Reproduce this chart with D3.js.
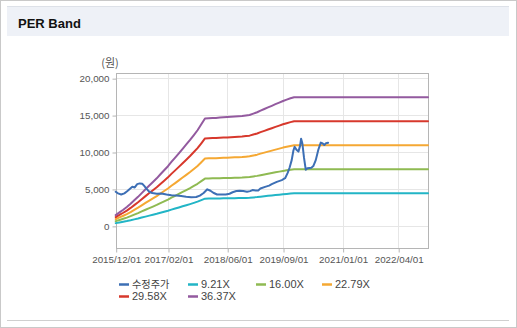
<!DOCTYPE html>
<html>
<head>
<meta charset="utf-8">
<script src="https://cdn.jsdelivr.net/npm/d3@7"></script>
<style>
  html, body { margin: 0; padding: 0; background: #fff; }
  svg { display: block; }
</style>
</head>
<body>
<svg id="chart" width="517" height="328"></svg>
<script>
// ---- data ----
const title = "PER Band";
const yUnitLabel = "(원)";
const priceName = "수정주가";

// Trailing EPS (won) used to build the PER band lines
const epsDates = [
  "2015-12-01","2016-01-01","2016-02-01","2016-03-01","2016-04-01","2016-05-01",
  "2016-06-01","2016-07-01","2016-08-01","2016-09-01","2016-10-01","2016-11-01",
  "2016-12-01","2017-01-01","2017-02-01","2017-03-01","2017-04-01","2017-05-01",
  "2017-06-01","2017-07-01","2017-08-01","2017-09-01","2017-10-01","2017-11-01",
  "2017-12-01","2018-01-01","2018-02-01","2018-03-01","2018-04-01","2018-05-01",
  "2018-06-01","2018-07-01","2018-08-01","2018-09-01","2018-10-01","2018-11-01",
  "2018-12-01","2019-01-01","2019-02-01","2019-03-01","2019-04-01","2019-05-01",
  "2019-06-01","2019-07-01","2019-08-01","2019-09-01","2019-10-01","2019-11-01",
  "2019-12-01","2022-12-01"
];
const epsValues = [
  40, 50, 60, 70, 82, 95,
  108, 122, 136, 150, 163, 177,
  192, 207, 222, 238, 254, 270,
  287, 303, 320, 338, 356, 378,
  400, 401, 402, 402, 403, 404,
  405, 406, 407, 408, 409, 411,
  413, 418, 423, 429, 435, 441,
  447, 453, 459, 465, 470, 475,
  479, 479
];

// PER multiples for the bands
const bandMultiples = [9.21, 16.00, 22.79, 29.58, 36.37];

// Adjusted close price (won)
const priceDates = [
  "2015-12-01","2015-12-20","2016-01-15","2016-02-10","2016-03-01","2016-03-25",
  "2016-04-15","2016-05-05","2016-05-25","2016-06-15","2016-07-05","2016-07-20",
  "2016-08-10","2016-08-30","2016-09-25","2016-11-01","2016-12-10","2017-01-20",
  "2017-03-01","2017-04-10","2017-05-20","2017-06-30","2017-08-10","2017-09-20",
  "2017-10-20","2017-11-20","2017-12-20","2018-01-15","2018-02-07","2018-03-10",
  "2018-04-15","2018-05-20","2018-06-20","2018-07-15","2018-08-15","2018-09-10",
  "2018-10-10","2018-11-10","2018-12-05","2018-12-25","2019-01-20","2019-02-10",
  "2019-02-28","2019-04-07","2019-05-10","2019-06-01","2019-07-12","2019-08-22",
  "2019-09-18","2019-10-10","2019-10-25","2019-11-11","2019-11-25","2019-12-05",
  "2019-12-20","2020-01-05","2020-01-18","2020-01-27","2020-02-06","2020-02-20",
  "2020-03-05","2020-03-18","2020-04-20","2020-05-06","2020-05-26","2020-06-16",
  "2020-07-06","2020-07-22","2020-08-04","2020-08-18","2020-09-04"
];
const priceValues = [
  4620, 4400, 4250, 4400, 4650, 5000,
  5300, 5200, 5650, 5750, 5700, 5450,
  5000, 4650, 4450, 4350, 4380, 4250,
  4150, 4100, 4050, 3950, 3880, 3900,
  4100, 4450, 4950, 4750, 4480, 4250,
  4230, 4250, 4350, 4550, 4720, 4750,
  4720, 4620, 4700, 4850, 4780, 4800,
  5050, 5280, 5450, 5650, 5960, 6200,
  6450, 7200, 7900, 8900, 10200, 10700,
  10300, 10050, 10800, 11800, 11200, 9200,
  7600, 7790, 7880, 8100, 8900, 10300,
  11270, 11150, 10950, 11200, 11250
];

const xTickDates = ["2015-12-01","2017-02-01","2018-06-01","2019-09-01","2021-01-01","2022-04-01"];
const yTickValues = [0, 5000, 10000, 15000, 20000];
const xDomain = ["2015-12-01", "2022-12-01"];
const yDomain = [-3000, 20700];

// ---- styling ----
const priceColor = "#3d6fb5";
const bandColors = ["#22b5c6", "#8fba52", "#f5a833", "#d7382c", "#935a9f"];
const numFont = "'Liberation Sans', Arial, sans-serif";
const krFont = "'Noto Sans CJK KR', 'Liberation Sans', sans-serif";

const parse = d3.utcParse("%Y-%m-%d");
const fmtTick = d3.utcFormat("%Y/%m/%d");

const svg = d3.select("#chart");

// outer frame and header strip
svg.append("rect").attr("x", 0.5).attr("y", 0.5).attr("width", 516).attr("height", 327)
  .attr("fill", "#fff").attr("stroke", "#c9c9c9");
svg.append("rect").attr("x", 7).attr("y", 6).attr("width", 502).attr("height", 30)
  .attr("fill", "#eef1f7");
svg.append("line").attr("x1", 7).attr("x2", 509).attr("y1", 6.5).attr("y2", 6.5)
  .attr("stroke", "#dde1e8");
svg.append("text").attr("x", 18).attr("y", 27.5).text(title)
  .attr("font-family", numFont).attr("font-weight", "bold").attr("font-size", 13).attr("fill", "#111");
svg.append("line").attr("x1", 7).attr("x2", 509).attr("y1", 320.5).attr("y2", 320.5)
  .attr("stroke", "#cfcfcf");

// ---- scales ----
const plot = { left: 115.7, right: 428, top: 73, bottom: 248 };
const x = d3.scaleUtc().domain(xDomain.map(parse)).range([plot.left, plot.right]);
const y = d3.scaleLinear().domain(yDomain).range([plot.bottom, plot.top]);

// grid
const g = svg.append("g");
g.selectAll(".hgrid").data(yTickValues).join("line")
  .attr("x1", plot.left).attr("x2", plot.right)
  .attr("y1", d => Math.round(y(d)) + 0.5).attr("y2", d => Math.round(y(d)) + 0.5)
  .attr("stroke", "#e6e6e6");
g.selectAll(".vgrid").data(xTickDates.map(parse)).join("line")
  .attr("x1", d => Math.round(x(d)) + 0.5).attr("x2", d => Math.round(x(d)) + 0.5)
  .attr("y1", plot.top).attr("y2", plot.bottom)
  .attr("stroke", "#e6e6e6");

// plot frame
svg.append("rect")
  .attr("x", Math.round(plot.left) + 0.5).attr("y", plot.top + 0.5)
  .attr("width", Math.round(plot.right) - Math.round(plot.left))
  .attr("height", plot.bottom - plot.top)
  .attr("fill", "none").attr("stroke", "#b5b5b5");

// axes
const yAxis = d3.axisLeft(y).tickValues(yTickValues).tickFormat(d3.format(",")).tickSize(4).tickPadding(3);
const yg = svg.append("g").attr("transform", `translate(${Math.round(plot.left) + 0.5},0.5)`).call(yAxis);
const xAxis = d3.axisBottom(x).tickValues(xTickDates.map(parse)).tickFormat(fmtTick).tickSize(4).tickPadding(4);
const xg = svg.append("g").attr("transform", `translate(0.5,${plot.bottom + 0.5})`).call(xAxis);
[yg, xg].forEach(a => {
  a.select(".domain").remove();
  a.selectAll(".tick line").attr("stroke", "#b5b5b5");
  a.selectAll(".tick text").attr("fill", "#555").attr("font-family", numFont).attr("font-size", 9.8);
});

svg.append("text").attr("x", 110).attr("y", 67).attr("text-anchor", "middle")
  .text(yUnitLabel).attr("font-family", krFont).attr("font-size", 11).attr("fill", "#555");

// ---- lines ----
const epsSeries = epsDates.map((d, i) => ({ date: parse(d), eps: epsValues[i] }));
const line = d3.line().x(d => x(d.date)).y(d => y(d.v));
const lines = svg.append("g").attr("fill", "none").attr("stroke-width", 2)
  .attr("stroke-linejoin", "round").attr("stroke-linecap", "round");

bandMultiples.forEach((m, k) => {
  lines.append("path")
    .datum(epsSeries.map(p => ({ date: p.date, v: p.eps * m })))
    .attr("stroke", bandColors[k])
    .attr("d", line);
});

const priceSeries = priceDates.map((d, i) => ({ date: parse(d), v: priceValues[i] }));
lines.append("path").datum(priceSeries).attr("stroke", priceColor).attr("d", line);

// ---- legend ----
const legendItems = [
  { label: priceName, color: priceColor, kr: true },
  ...bandMultiples.map((m, k) => ({ label: d3.format(".2f")(m) + "X", color: bandColors[k] }))
];
const legendSlots = [[119, 284.5], [188, 284.5], [256, 284.5], [322, 284.5], [119, 296.5], [188, 296.5]];
const lg = svg.append("g");
legendItems.forEach((it, i) => {
  const [lx, ly] = legendSlots[i];
  lg.append("line").attr("x1", lx).attr("x2", lx + 10).attr("y1", ly).attr("y2", ly)
    .attr("stroke", it.color).attr("stroke-width", 2.5);
  lg.append("text").attr("x", lx + 13).attr("y", ly).attr("dy", "0.35em")
    .text(it.label)
    .attr("font-family", it.kr ? krFont : numFont)
    .attr("font-size", it.kr ? 10.2 : 11)
    .attr("fill", "#444");
});
</script>
</body>
</html>
